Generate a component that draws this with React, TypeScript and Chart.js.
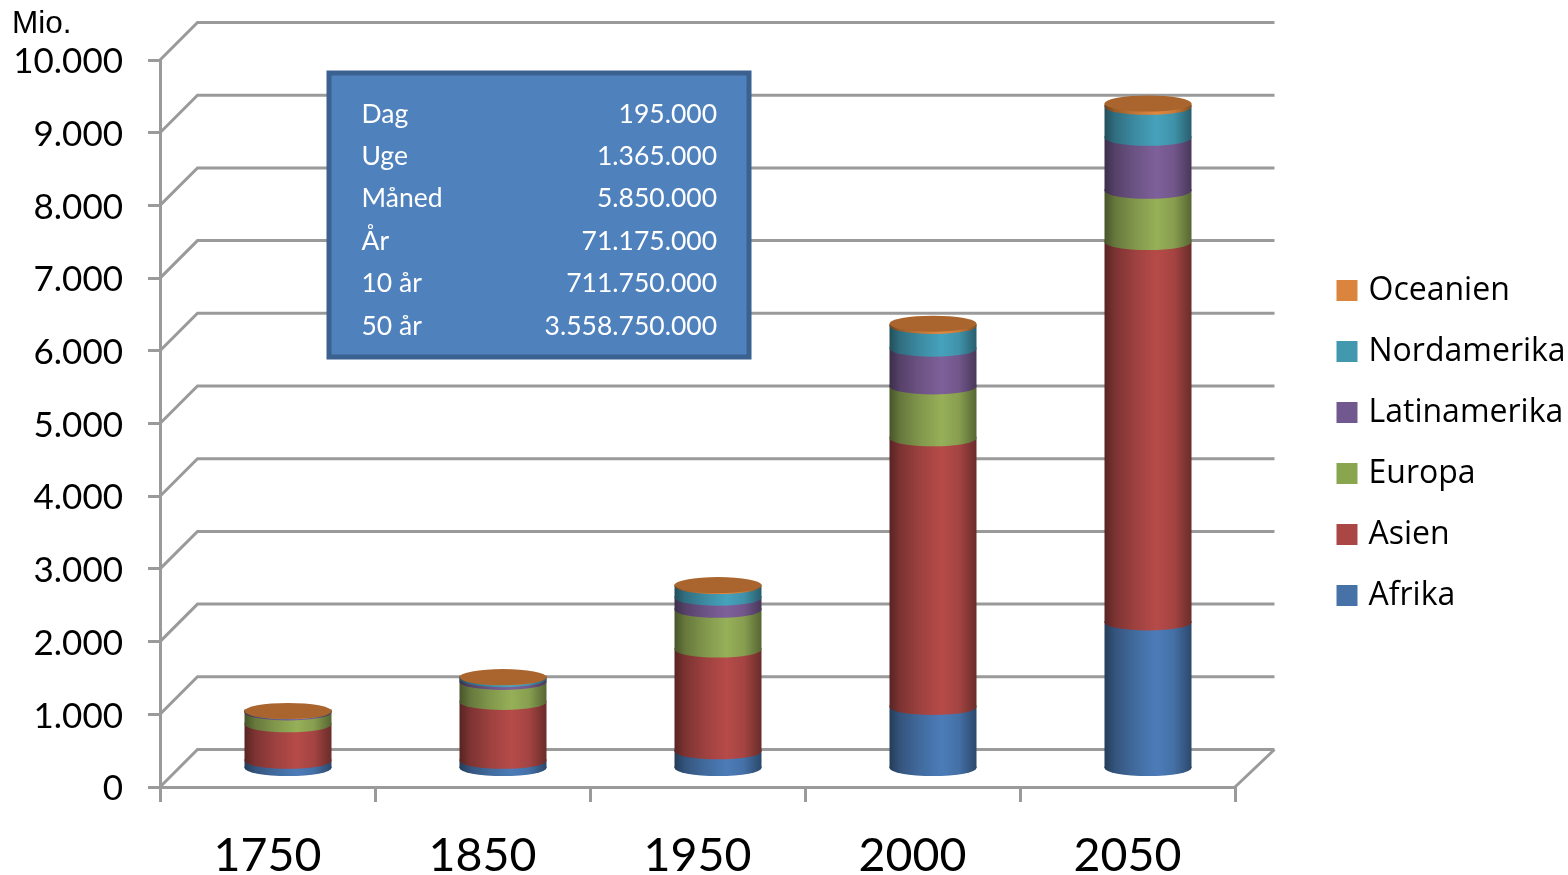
import React, { useEffect, useRef } from "react";
import { Chart, registerables } from "chart.js";

Chart.register(...registerables);

const years = ["1750", "1850", "1950", "2000", "2050"];
const afrika = [120, 120, 250, 860, 2023];
const asien = [502, 809, 1400, 3696, 5233];
const europa = [163, 276, 547, 713, 704];
const latinamerika = [16, 38, 167, 520, 730];
const nordamerika = [2, 26, 160, 313, 425];
const oceanien = [2, 2, 13, 31, 46];

const seriesNames = ["Afrika", "Asien", "Europa", "Latinamerika", "Nordamerika", "Oceanien"];
const seriesValues = [afrika, asien, europa, latinamerika, nordamerika, oceanien];
const legendColors = ["#4672a8", "#aa4644", "#89a54e", "#71588f", "#4198af", "#db843d"];
const sideRgb: number[][] = [
  [76, 124, 184],
  [182, 75, 73],
  [150, 176, 88],
  [126, 96, 154],
  [70, 162, 188],
  [226, 136, 62],
];
const topCapColor = "#a9652d";

const boxLabels = ["Dag", "Uge", "Måned", "År", "10 år", "50 år"];
const boxValues = ["195.000", "1.365.000", "5.850.000", "71.175.000", "711.750.000", "3.558.750.000"];
const unitLabel = "Mio.";

const FONT = "Lato, Calibri, sans-serif";
const GRID = "#9a9a9a";
const DEPTH = 37.5;
const BAR_SHIFT_X = 20.5;
const BAR_SHIFT_Y = 17.5;
const RY = 8;

function shade(rgb: number[], f: number) {
  return `rgb(${rgb.map((c) => Math.round(c * f)).join(",")})`;
}

function cylinderFill(ctx: CanvasRenderingContext2D, rgb: number[], cx: number, w: number) {
  const g = ctx.createLinearGradient(cx - w / 2, 0, cx + w / 2, 0);
  g.addColorStop(0, shade(rgb, 0.48));
  g.addColorStop(0.12, shade(rgb, 0.68));
  g.addColorStop(0.35, shade(rgb, 0.86));
  g.addColorStop(0.6, shade(rgb, 1));
  g.addColorStop(0.8, shade(rgb, 0.9));
  g.addColorStop(1, shade(rgb, 0.58));
  return g;
}

const wallsPlugin = {
  id: "walls",
  beforeDatasetsDraw(chart: any) {
    const { ctx, chartArea } = chart;
    const y = chart.scales.y;
    ctx.save();
    ctx.strokeStyle = GRID;
    ctx.lineWidth = 3;
    ctx.beginPath();
    y.ticks.forEach((t: any) => {
      const py = y.getPixelForValue(t.value);
      ctx.moveTo(chartArea.left, py);
      ctx.lineTo(chartArea.left + DEPTH, py - DEPTH);
      ctx.lineTo(chartArea.right + DEPTH + 2, py - DEPTH);
    });
    const py0 = y.getPixelForValue(0);
    ctx.moveTo(chartArea.right, py0);
    ctx.lineTo(chartArea.right + DEPTH + 2, py0 - DEPTH);
    ctx.stroke();

    // information box
    const bx = 328;
    const bw = 422;
    const by = 72;
    const bh = 286;
    ctx.fillStyle = "#4f81bd";
    ctx.fillRect(bx, by, bw, bh);
    ctx.strokeStyle = "#3a618f";
    ctx.lineWidth = 5;
    ctx.strokeRect(bx + 1, by + 1, bw - 2, bh - 2);
    ctx.fillStyle = "#ffffff";
    ctx.font = `26.5px ${FONT}`;
    ctx.textBaseline = "middle";
    boxLabels.forEach((label, i) => {
      const ry = 114 + i * 42.4;
      ctx.textAlign = "left";
      ctx.fillText(label, 361.5, ry);
      ctx.textAlign = "right";
      ctx.fillText(boxValues[i], 717, ry);
    });
    ctx.restore();

    ctx.save();
    ctx.translate(BAR_SHIFT_X, -BAR_SHIFT_Y);
  },
  afterDatasetsDraw(chart: any) {
    const { ctx } = chart;
    chart.data.datasets.forEach((_: any, di: number) => {
      const meta = chart.getDatasetMeta(di);
      meta.data.forEach((el: any) => {
        const p = el.getProps(["x", "y", "base", "width"], true);
        ctx.fillStyle = cylinderFill(ctx, sideRgb[di], p.x, p.width);
        ctx.beginPath();
        ctx.moveTo(p.x - p.width / 2, p.base - 1.5);
        ctx.lineTo(p.x + p.width / 2, p.base - 1.5);
        ctx.ellipse(p.x, p.base, p.width / 2, RY, 0, 0, Math.PI);
        ctx.closePath();
        ctx.fill();
      });
    });
    const last = chart.getDatasetMeta(chart.data.datasets.length - 1);
    last.data.forEach((el: any) => {
      const p = el.getProps(["x", "y", "width"], true);
      ctx.fillStyle = topCapColor;
      ctx.beginPath();
      ctx.ellipse(p.x, p.y, p.width / 2, RY, 0, 0, Math.PI * 2);
      ctx.fill();
    });
    ctx.restore();
  },
  afterLayout(chart: any) {
    const lg = chart.legend;
    if (lg) {
      const w = lg.width;
      const h = lg.height;
      lg.left = 1312.5;
      lg.right = 1312.5 + w;
      lg.top = 245.5;
      lg.bottom = 245.5 + h;
    }
  },
  afterDraw(chart: any) {
    const { ctx } = chart;
    ctx.save();
    ctx.fillStyle = "#000";
    ctx.font = '31.5px "Liberation Sans", Arial, sans-serif';
    ctx.textAlign = "left";
    ctx.textBaseline = "middle";
    ctx.fillText(unitLabel, 12, 24);
    ctx.restore();
  },
};

export default function App() {
  const ref = useRef<HTMLCanvasElement>(null);
  useEffect(() => {
    if (!ref.current) return;
    const chart = new Chart(ref.current, {
      type: "bar",
      data: {
        labels: years,
        datasets: seriesNames.map((name, i) => ({
          label: name,
          data: seriesValues[i],
          clip: false as any,
          backgroundColor: (c: any) => {
            const xs = c.chart.scales.x;
            const w = xs.width / years.length;
            const bw = w * (87 / 215);
            const cx = xs.getPixelForValue(c.dataIndex ?? 0);
            return cylinderFill(c.chart.ctx, sideRgb[i], cx, bw);
          },
          borderWidth: 0,
          barPercentage: 87 / 215,
          categoryPercentage: 1,
        })),
      },
      options: {
        animation: false,
        responsive: false,
        devicePixelRatio: 1,
        layout: { padding: { top: 60, right: 333, left: 0, bottom: 0 } },
        scales: {
          x: {
            stacked: true,
            grid: {
              drawOnChartArea: false,
              color: GRID,
              lineWidth: 3,
              tickLength: 15,
              offset: true,
            },
            border: { color: GRID, width: 3 },
            ticks: { color: "#000", font: { family: FONT, size: 46.5 }, padding: 26, maxRotation: 0 },
            afterFit: (s: any) => {
              s.height = 88;
              s.paddingLeft = 0;
              s.paddingRight = 0;
            },
          },
          y: {
            stacked: true,
            min: 0,
            max: 10000,
            grid: { drawOnChartArea: false, color: GRID, lineWidth: 3, tickLength: 12 },
            border: { color: GRID, width: 3 },
            ticks: {
              stepSize: 1000,
              color: "#000",
              font: { family: FONT, size: 35 },
              padding: 25,
              labelOffset: 2,
              callback: (v: any) => String(v).replace(/\B(?=(\d{3})+$)/g, "."),
            },
            afterFit: (s: any) => {
              s.width = 160;
              s.paddingTop = 0;
              s.paddingBottom = 0;
            },
          },
        },
        plugins: {
          tooltip: { enabled: false },
          title: { display: false },
          legend: {
            display: true,
            position: "chartArea" as any,
            align: "start",
            reverse: true,
            labels: {
              color: "#000",
              font: { family: '"Open Sans", sans-serif', size: 32 },
              boxWidth: 11,
              boxHeight: 11,
              padding: 29,
              generateLabels: (c: any) =>
                c.data.datasets.map((d: any, i: number) => ({
                  text: d.label,
                  fillStyle: legendColors[i],
                  strokeStyle: legendColors[i],
                  lineWidth: 10,
                  datasetIndex: i,
                  hidden: false,
                })),
            },
          },
        },
      },
      plugins: [wallsPlugin],
    } as any);
    return () => chart.destroy();
  }, []);
  return (
    <div style={{ position: "fixed", left: 0, top: 0, width: 1568, height: 875, background: "#fff" }}>
      <canvas ref={ref} width={1568} height={875} style={{ display: "block", width: 1568, height: 875 }} />
    </div>
  );
}
